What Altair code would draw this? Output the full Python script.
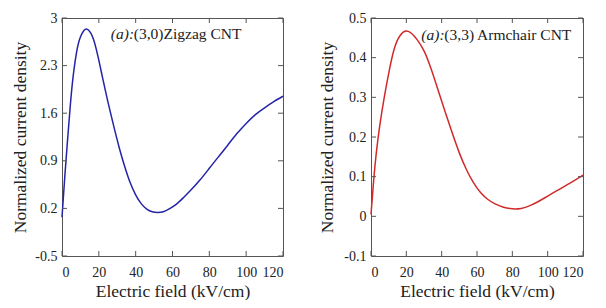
import altair as alt
import pandas as pd

# ---- data ----
zig_E = [0, 1.5, 3, 4.5, 6, 8, 10, 12, 13.2, 14.5, 16.8, 19.5, 22.2, 25, 28, 31, 34, 37,
         40, 43, 46, 49, 52, 55, 58, 62, 66, 70, 75, 80, 85, 90, 95, 100, 105, 110, 115, 120]
zig_J = [0.07, 0.66, 1.20, 1.71, 2.13, 2.51, 2.72, 2.82, 2.84, 2.82, 2.71, 2.44, 2.10, 1.76,
         1.42, 1.10, 0.82, 0.58, 0.40, 0.27, 0.19, 0.15, 0.14, 0.15, 0.19, 0.26, 0.36, 0.47,
         0.62, 0.79, 0.96, 1.13, 1.30, 1.45, 1.58, 1.68, 1.77, 1.85]

arm_E = [0, 1.5, 3, 5, 7.5, 10, 13, 16.5, 20, 23, 26, 30, 34, 38, 42, 46, 50, 54, 58, 62,
         66, 70, 75, 80, 85, 90, 95, 100, 105, 110, 115, 120]
arm_J = [0.005, 0.09, 0.16, 0.23, 0.30, 0.36, 0.42, 0.456, 0.467, 0.461, 0.446, 0.417,
         0.372, 0.318, 0.263, 0.210, 0.160, 0.118, 0.085, 0.060, 0.043, 0.032, 0.023,
         0.019, 0.020, 0.027, 0.038, 0.051, 0.064, 0.077, 0.090, 0.104]

x_ticks = [0, 20, 40, 60, 80, 100, 120]
zig_y_ticks = [-0.5, 0.2, 0.9, 1.6, 2.3, 3]
arm_y_ticks = [-0.1, 0, 0.1, 0.2, 0.3, 0.4, 0.5]

zig_label = ["(a):", "(3,0)Zigzag CNT"]
arm_label = ["(a):", "(3,3) Armchair CNT"]
zig_label_pos = [26.5, 2.76]
arm_label_pos = [28.5, 0.457]

x_title = "Electric field (kV/cm)"
y_title = "Normalized current density"

FRAME = "#555555"
SERIF = "Liberation Serif"
H = 238


def panel(E, J, color, y_ticks, y_dom, label, label_pos, W, ytitle_pad):
    df = pd.DataFrame({"E": E, "J": J})
    x = alt.X("E:Q",
              scale=alt.Scale(domain=[0, 120], nice=False, zero=False),
              axis=alt.Axis(values=x_ticks, ticks=False, domain=False, grid=False,
                            labelFont=SERIF, labelFontSize=14, labelColor="#222222",
                            labelPadding=9, title=x_title, titleFont=SERIF,
                            titleFontSize=17.5, titleFontWeight="normal",
                            titleColor="#222222", titlePadding=3))
    y = alt.Y("J:Q",
              scale=alt.Scale(domain=y_dom, nice=False, zero=False),
              axis=alt.Axis(values=y_ticks, ticks=False, domain=False, grid=False,
                            labelFont=SERIF, labelFontSize=14, labelColor="#222222",
                            labelPadding=5, labelExpr="datum.value + ''",
                            title=y_title, titleFont=SERIF, titleFontSize=17.5,
                            titleFontWeight="normal", titleColor="#222222",
                            titlePadding=ytitle_pad))
    line = alt.Chart(df).mark_line(color=color, strokeWidth=1.5,
                                   interpolate="natural").encode(x=x, y=y)
    xt = pd.DataFrame({"E": x_ticks})
    yt = pd.DataFrame({"J": y_ticks})
    tb = alt.Chart(xt).mark_rule(color=FRAME).encode(x=x, y=alt.value(H), y2=alt.value(H - 5))
    tt = alt.Chart(xt).mark_rule(color=FRAME).encode(x=x, y=alt.value(0), y2=alt.value(5))
    tl = alt.Chart(yt).mark_rule(color=FRAME).encode(y=y, x=alt.value(0), x2=alt.value(5))
    tr = alt.Chart(yt).mark_rule(color=FRAME).encode(y=y, x=alt.value(W - 5), x2=alt.value(W))
    ann = pd.DataFrame({"E": [label_pos[0]], "J": [label_pos[1]],
                        "a": [label[0]], "b": [label[1]]})
    t1 = alt.Chart(ann).mark_text(align="left", baseline="middle", font=SERIF,
                                  fontSize=15.5, fontStyle="italic",
                                  color="#222222").encode(x=x, y=y, text="a:N")
    t2 = alt.Chart(ann).mark_text(align="left", baseline="middle", font=SERIF,
                                  fontSize=15.5, dx=23,
                                  color="#222222").encode(x=x, y=y, text="b:N")
    return alt.layer(line, tb, tt, tl, tr, t1, t2).properties(width=W, height=H)


left = panel(zig_E, zig_J, "#2424a8", zig_y_ticks, [-0.5, 3], zig_label, zig_label_pos, 221, 5)
right = panel(arm_E, arm_J, "#d12a2a", arm_y_ticks, [-0.1, 0.5], arm_label, arm_label_pos, 212, 7)

chart = alt.hconcat(left, right, spacing=31).properties(
    padding={"left": 3, "top": 2, "right": 0, "bottom": 0},
    background="white",
).configure_view(stroke=FRAME, strokeWidth=1)

chart.save("out.html", embed_options={"renderer": "svg", "actions": False})
